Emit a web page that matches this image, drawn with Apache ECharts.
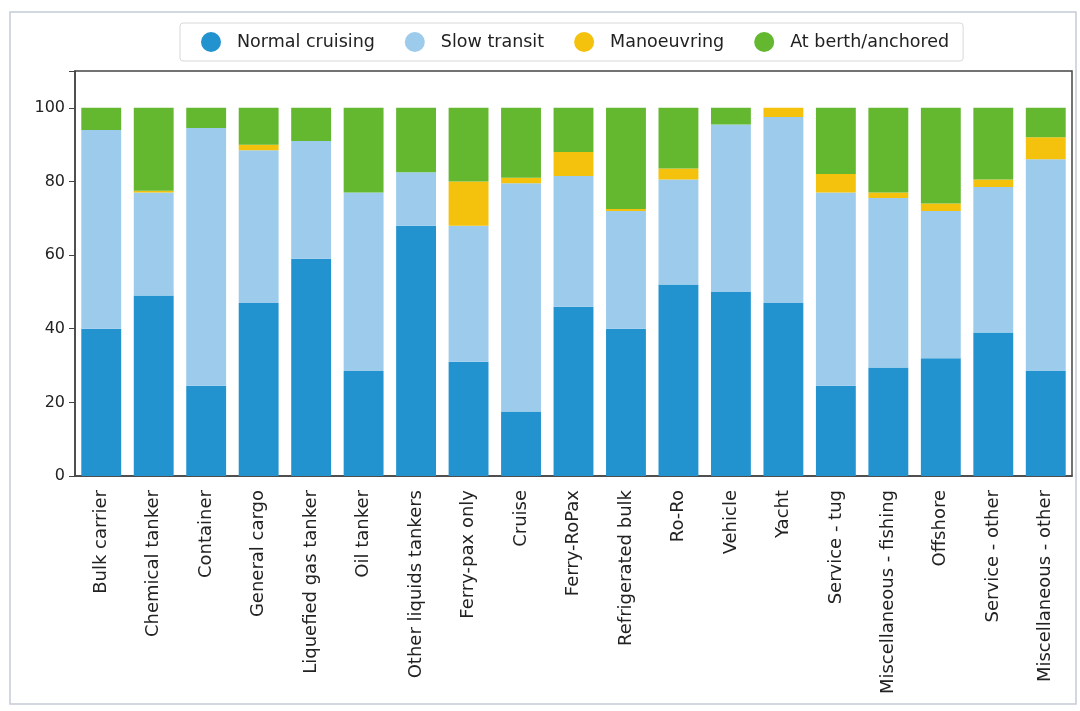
<!DOCTYPE html>
<html>
<head>
    <meta charset="utf-8">
    <title>Operating modes by ship type</title>
    <script src="https://cdn.jsdelivr.net/npm/echarts@6/dist/echarts.min.js"></script>
    <style>
        html, body { margin: 0; padding: 0; background: #fff; }
        #main { width: 1080px; height: 711px; }
    </style>
</head>
<body>
    <div id="main"></div>
    <script type="text/javascript">
        // ship types (x axis)
        var shipTypes = [
            'Bulk carrier', 'Chemical tanker', 'Container', 'General cargo',
            'Liquefied gas tanker', 'Oil tanker', 'Other liquids tankers',
            'Ferry-pax only', 'Cruise', 'Ferry-RoPax', 'Refrigerated bulk',
            'Ro-Ro', 'Vehicle', 'Yacht', 'Service - tug', 'Miscellaneous - fishing',
            'Offshore', 'Service - other', 'Miscellaneous - other'
        ];

        // share of time (%) in each operating mode
        var normalCruising = [40, 49, 24.5, 47, 59, 28.5, 68, 31, 17.5, 46, 40, 52, 50, 47, 24.5, 29.5, 32, 39, 28.5];
        var slowTransit    = [54, 28, 70, 41.5, 32, 48.5, 14.5, 37, 62, 35.5, 32, 28.5, 45.5, 50.5, 52.5, 46, 40, 39.5, 57.5];
        var manoeuvring    = [0, 0.5, 0, 1.5, 0, 0, 0, 12, 1.5, 6.5, 0.5, 3, 0, 2.5, 5, 1.5, 2, 2, 6];
        var atBerth        = [6, 22.5, 5.5, 10, 9, 23, 17.5, 20, 19, 12, 27.5, 16.5, 4.5, 0, 18, 23, 26, 19.5, 8];

        var yTicks = [0, 20, 40, 60, 80, 100];

        var seriesNames = ['Normal cruising', 'Slow transit', 'Manoeuvring', 'At berth/anchored'];
        var seriesColors = ['#2393cf', '#9ccbec', '#f4c20d', '#63b830'];
        var seriesData = [normalCruising, slowTransit, manoeuvring, atBerth];

        var font = 'DejaVu Sans';
        var myChart = echarts.init(document.getElementById('main'));

        var series = seriesNames.map(function (name, i) {
            return {
                name: name,
                type: 'bar',
                stack: 'total',
                barCategoryGap: '24%',
                itemStyle: { color: seriesColors[i] },
                emphasis: { disabled: true },
                data: seriesData[i]
            };
        });

        var option = {
            animation: false,
            textStyle: { fontFamily: font },
            graphic: [{
                type: 'rect',
                shape: { x: 10, y: 12, width: 1066, height: 692 },
                style: { fill: 'none', stroke: '#c5ccd6', lineWidth: 1.5 },
                silent: true
            }],
            legend: {
                data: seriesNames,
                top: 23,
                left: 180,
                icon: 'circle',
                // wide item box: circle stays 20px, text sits further right
                itemWidth: 42,
                itemHeight: 20,
                itemGap: 30,
                padding: [9, 14, 9, 21],
                borderColor: '#d8d8d8',
                borderWidth: 1,
                borderRadius: 3,
                textStyle: { fontFamily: font, fontSize: 17.5, color: '#222' }
            },
            grid: {
                left: 75,
                right: 8,
                top: 71,
                bottom: 235,
                show: true,
                borderColor: '#444',
                borderWidth: 1.5,
                backgroundColor: '#fff'
            },
            xAxis: {
                type: 'category',
                data: shipTypes,
                axisLine: { lineStyle: { color: '#444', width: 1.5 } },
                axisTick: { alignWithLabel: true, length: 6, lineStyle: { color: '#444' } },
                axisLabel: {
                    rotate: 90,
                    interval: 0,
                    margin: 14,
                    fontFamily: font,
                    fontSize: 18,
                    color: '#222'
                }
            },
            yAxis: {
                type: 'value',
                min: 0,
                max: 110,
                interval: 20,
                splitLine: { show: false },
                axisLine: { show: true, lineStyle: { color: '#444', width: 1.5 } },
                axisTick: { show: true, length: 6, lineStyle: { color: '#444' } },
                axisLabel: {
                    fontFamily: font,
                    fontSize: 16,
                    color: '#222',
                    margin: 10,
                    formatter: function (v) { return yTicks.indexOf(v) >= 0 ? v : ''; }
                }
            },
            series: series
        };
        myChart.setOption(option);
    </script>
</body>
</html>
